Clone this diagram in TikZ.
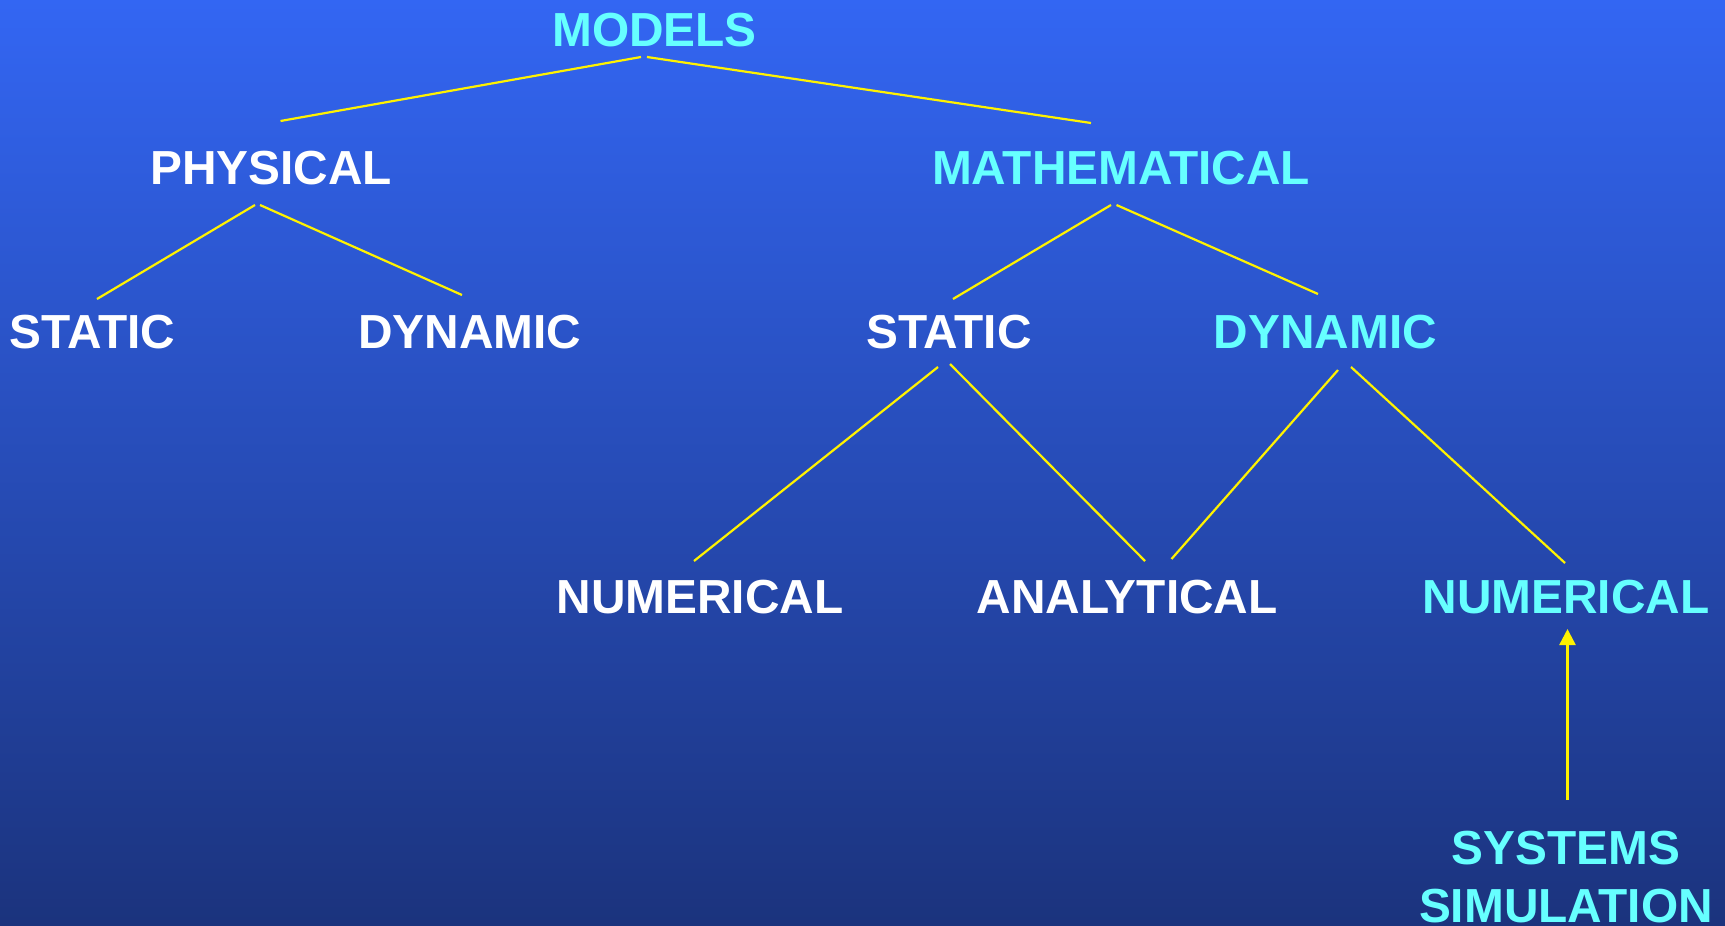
\documentclass[tikz,border=0pt]{standalone}
\usepackage{fontspec}
\setmainfont{Liberation Sans}
\usetikzlibrary{arrows.meta}
\definecolor{bgtop}{RGB}{51,102,243}
\definecolor{bgbottom}{RGB}{27,51,125}
\definecolor{aqua}{RGB}{102,255,255}

\begin{document}
\begin{tikzpicture}[
    x=1pt, y=-1pt,
    every node/.style = {font=\fontsize{47.8}{58}\selectfont\bfseries, inner sep=0pt},
    plain/.style = {text=white},
    hot/.style   = {text=aqua},
    link/.style  = {draw=yellow, line width=2.2pt},
    arr/.style   = {draw=yellow, line width=2.5pt, -{Triangle[length=16pt, width=16pt]}}
  ]

  % background
  \shade[top color=bgtop, bottom color=bgbottom] (0,0) rectangle (1725,926);
  \useasboundingbox (0,0) rectangle (1725,926);

  % nodes
  \node[hot]   (models)  at (654.5,30) {MODELS};
  \node[plain] (phys)    at (271,168)  {PHYSICAL};
  \node[hot]   (math)    at (1121,168) {MATHEMATICAL};
  \node[plain] (pstatic) at (92.4,332) {STATIC};
  \node[plain] (pdyn)    at (470,332)  {DYNAMIC};
  \node[plain] (mstatic) at (949,332)  {STATIC};
  \node[hot]   (mdyn)    at (1325.5,332) {DYNAMIC};
  \node[plain] (snum)    at (700,597)  {NUMERICAL};
  \node[plain] (anal)    at (1127,597) {ANALYTICAL};
  \node[hot]   (dnum)    at (1566,597) {NUMERICAL};
  \node[hot, align=center] (sim) at (1566,877) {SYSTEMS\\SIMULATION};

  % edges
  \draw[link] ([shift={(-13.5,27)}]models.center) -- ([shift={(9.5,-47)}]phys.center);
  \draw[link] ([shift={(-7.5,27)}]models.center)  -- ([shift={(-30,-45)}]math.center);
  \draw[link] ([shift={(-16,37)}]phys.center)     -- ([shift={(4.6,-33)}]pstatic.center);
  \draw[link] ([shift={(-11,37)}]phys.center)     -- ([shift={(-8,-37)}]pdyn.center);
  \draw[link] ([shift={(-10,37)}]math.center)     -- ([shift={(4,-33)}]mstatic.center);
  \draw[link] ([shift={(-4.5,37)}]math.center)    -- ([shift={(-7.5,-38)}]mdyn.center);
  \draw[link] ([shift={(-11,35)}]mstatic.center)  -- ([shift={(-6,-36)}]snum.center);
  \draw[link] ([shift={(1,32)}]mstatic.center)    -- ([shift={(18,-36)}]anal.center);
  \draw[link] ([shift={(12.5,38)}]mdyn.center)    -- ([shift={(44.5,-38)}]anal.center);
  \draw[link] ([shift={(25.5,35)}]mdyn.center)    -- ([shift={(-1,-34)}]dnum.center);
  \draw[arr]  ([shift={(1.5,-77)}]sim.center)     -- ([shift={(1.5,32)}]dnum.center);

\end{tikzpicture}
\end{document}
